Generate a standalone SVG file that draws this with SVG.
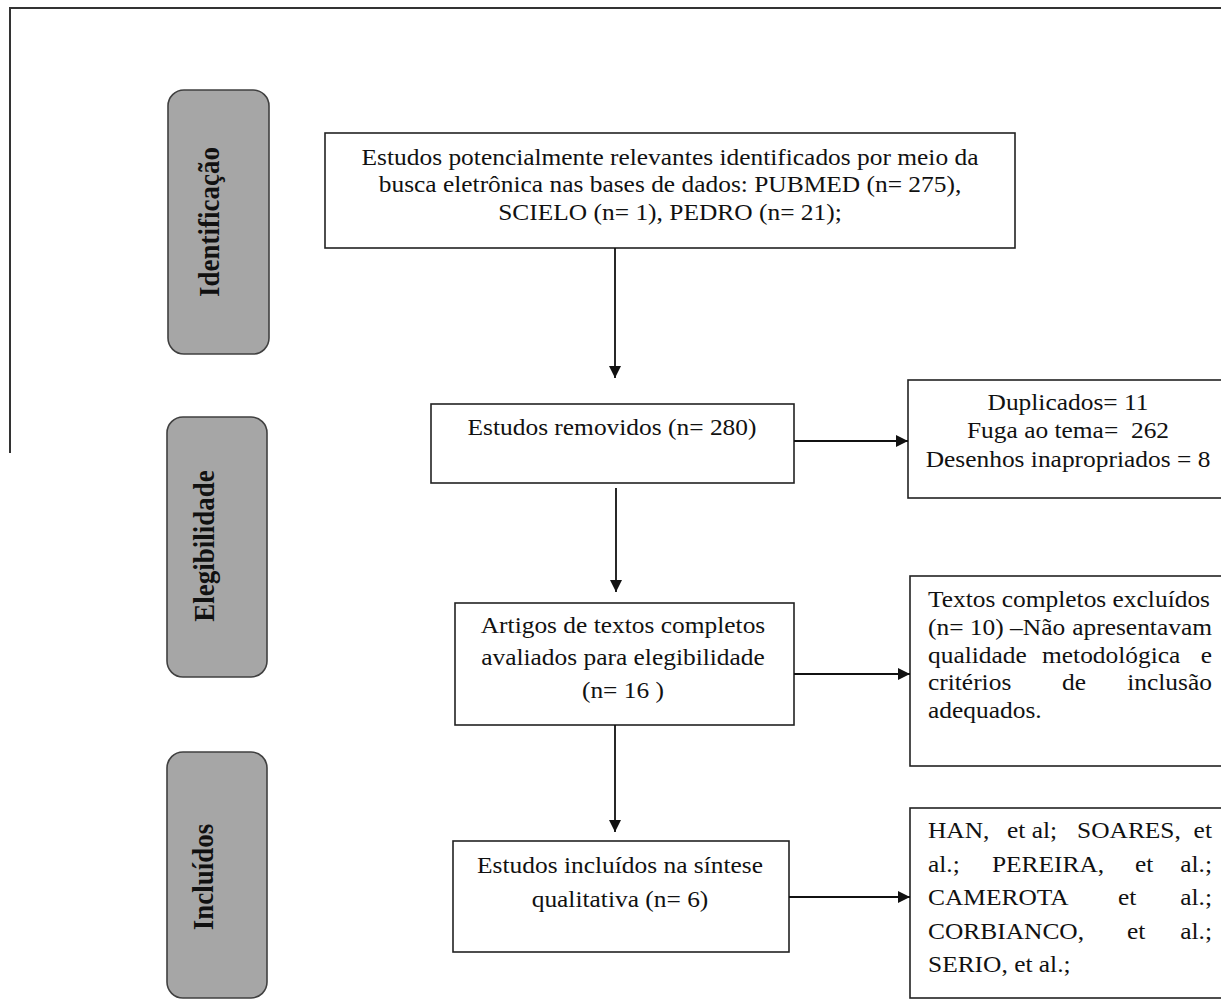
<svg xmlns="http://www.w3.org/2000/svg" width="1221" height="1000" viewBox="0 0 1221 1000">
<style>
.t{font-family:"Liberation Serif","Times New Roman",serif;font-size:22.5px;fill:#111}
.c{text-anchor:middle}
.e{text-anchor:end}
.lab{font-family:"Liberation Serif","Times New Roman",serif;font-size:27px;font-weight:bold;fill:#111;text-anchor:middle}
.box{fill:#fff;stroke:#222;stroke-width:1.6}
.side{fill:#a6a6a6;stroke:#404040;stroke-width:1.6}
.ln{stroke:#111;stroke-width:1.8;fill:none}
</style>
<defs>
<marker id="ah" markerUnits="userSpaceOnUse" markerWidth="13" markerHeight="12" refX="12" refY="6" orient="auto">
<path d="M0,0 L12,6 L0,12 z" fill="#111"/>
</marker>
</defs>
<rect width="1221" height="1000" fill="#fff"/>
<path d="M10,453 L10,8 L1221,8" fill="none" stroke="#333" stroke-width="2"/>

<g id="stage-identificacao">
<rect class="side" x="168" y="90" width="101" height="264" rx="16"/>
<text class="lab" transform="translate(219 222) scale(1.13 1) rotate(-90)">Identificação</text>
</g>
<g id="stage-elegibilidade">
<rect class="side" x="167" y="417" width="100" height="260" rx="16"/>
<text class="lab" transform="translate(214 546) scale(1.13 1) rotate(-90)">Elegibilidade</text>
</g>
<g id="stage-incluidos">
<rect class="side" x="167" y="752" width="100" height="246" rx="16"/>
<text class="lab" transform="translate(213 877) scale(1.13 1) rotate(-90)">Incluídos</text>
</g>

<g id="identified">
<rect class="box" x="325" y="133" width="690" height="115"/>
<g transform="translate(670 0) scale(1.13 1)">
<text class="t c" x="0" y="165">Estudos potencialmente relevantes identificados por meio da</text>
<text class="t c" x="0" y="192">busca eletrônica nas bases de dados: PUBMED (n= 275),</text>
<text class="t c" x="0" y="220">SCIELO (n= 1), PEDRO (n= 21);</text>
</g>
</g>

<g id="removed">
<rect class="box" x="431" y="404" width="363" height="79"/>
<g transform="translate(612 0) scale(1.13 1)">
<text class="t c" x="0" y="435">Estudos removidos (n= 280)</text>
</g>
</g>

<g id="removed-reasons">
<rect class="box" x="908" y="380" width="320" height="118"/>
<g transform="translate(1068 0) scale(1.13 1)">
<text class="t c" x="0" y="410">Duplicados= 11</text>
<text class="t c" x="0" y="438" xml:space="preserve">Fuga ao tema=  262</text>
<text class="t c" x="0" y="467">Desenhos inapropriados = 8</text>
</g>
</g>

<g id="fulltext">
<rect class="box" x="455" y="603" width="339" height="122"/>
<g transform="translate(623 0) scale(1.13 1)">
<text class="t c" x="0" y="633">Artigos de textos completos</text>
<text class="t c" x="0" y="665">avaliados para elegibilidade</text>
<text class="t c" x="0" y="698">(n= 16 )</text>
</g>
</g>

<g id="fulltext-excluded">
<rect class="box" x="910" y="576" width="320" height="190"/>
<g transform="translate(928 0) scale(1.13 1)">
<text class="t" x="0" y="607">Textos completos excluídos</text>
<text class="t" x="0" y="635">(n= 10) –Não</text>
<text class="t e" x="251.3" y="635">apresentavam</text>
<text class="t" x="0" y="663">qualidade</text>
<text class="t" x="100.9" y="663">metodológica</text>
<text class="t e" x="251.3" y="663">e</text>
<text class="t" x="0" y="690">critérios</text>
<text class="t" x="118.6" y="690">de</text>
<text class="t e" x="251.3" y="690">inclusão</text>
<text class="t" x="0" y="718">adequados.</text>
</g>
</g>

<g id="included">
<rect class="box" x="453" y="841" width="336" height="111"/>
<g transform="translate(620 0) scale(1.13 1)">
<text class="t c" x="0" y="873">Estudos incluídos na síntese</text>
<text class="t c" x="0" y="907">qualitativa (n= 6)</text>
</g>
</g>

<g id="included-list">
<rect class="box" x="910" y="808" width="320" height="190"/>
<g transform="translate(928 0) scale(1.13 1)">
<text class="t" x="0" y="838">HAN,</text>
<text class="t" x="69.9" y="838">et al;</text>
<text class="t" x="131.9" y="838">SOARES,</text>
<text class="t e" x="251.3" y="838">et</text>
<text class="t" x="0" y="872">al.;</text>
<text class="t" x="56.6" y="872">PEREIRA,</text>
<text class="t" x="183.2" y="872">et</text>
<text class="t e" x="251.3" y="872">al.;</text>
<text class="t" x="0" y="905">CAMEROTA</text>
<text class="t" x="168.1" y="905">et</text>
<text class="t e" x="251.3" y="905">al.;</text>
<text class="t" x="0" y="939">CORBIANCO,</text>
<text class="t" x="176.1" y="939">et</text>
<text class="t e" x="251.3" y="939">al.;</text>
<text class="t" x="0" y="972">SERIO, et al.;</text>
</g>
</g>

<g id="connectors">
<path class="ln" d="M615,248 L615,378" marker-end="url(#ah)"/>
<path class="ln" d="M794,441 L908,441" marker-end="url(#ah)"/>
<path class="ln" d="M616,488 L616,592" marker-end="url(#ah)"/>
<path class="ln" d="M794,674 L910,674" marker-end="url(#ah)"/>
<path class="ln" d="M615,725 L615,832" marker-end="url(#ah)"/>
<path class="ln" d="M789,897 L910,897" marker-end="url(#ah)"/>
</g>
</svg>
